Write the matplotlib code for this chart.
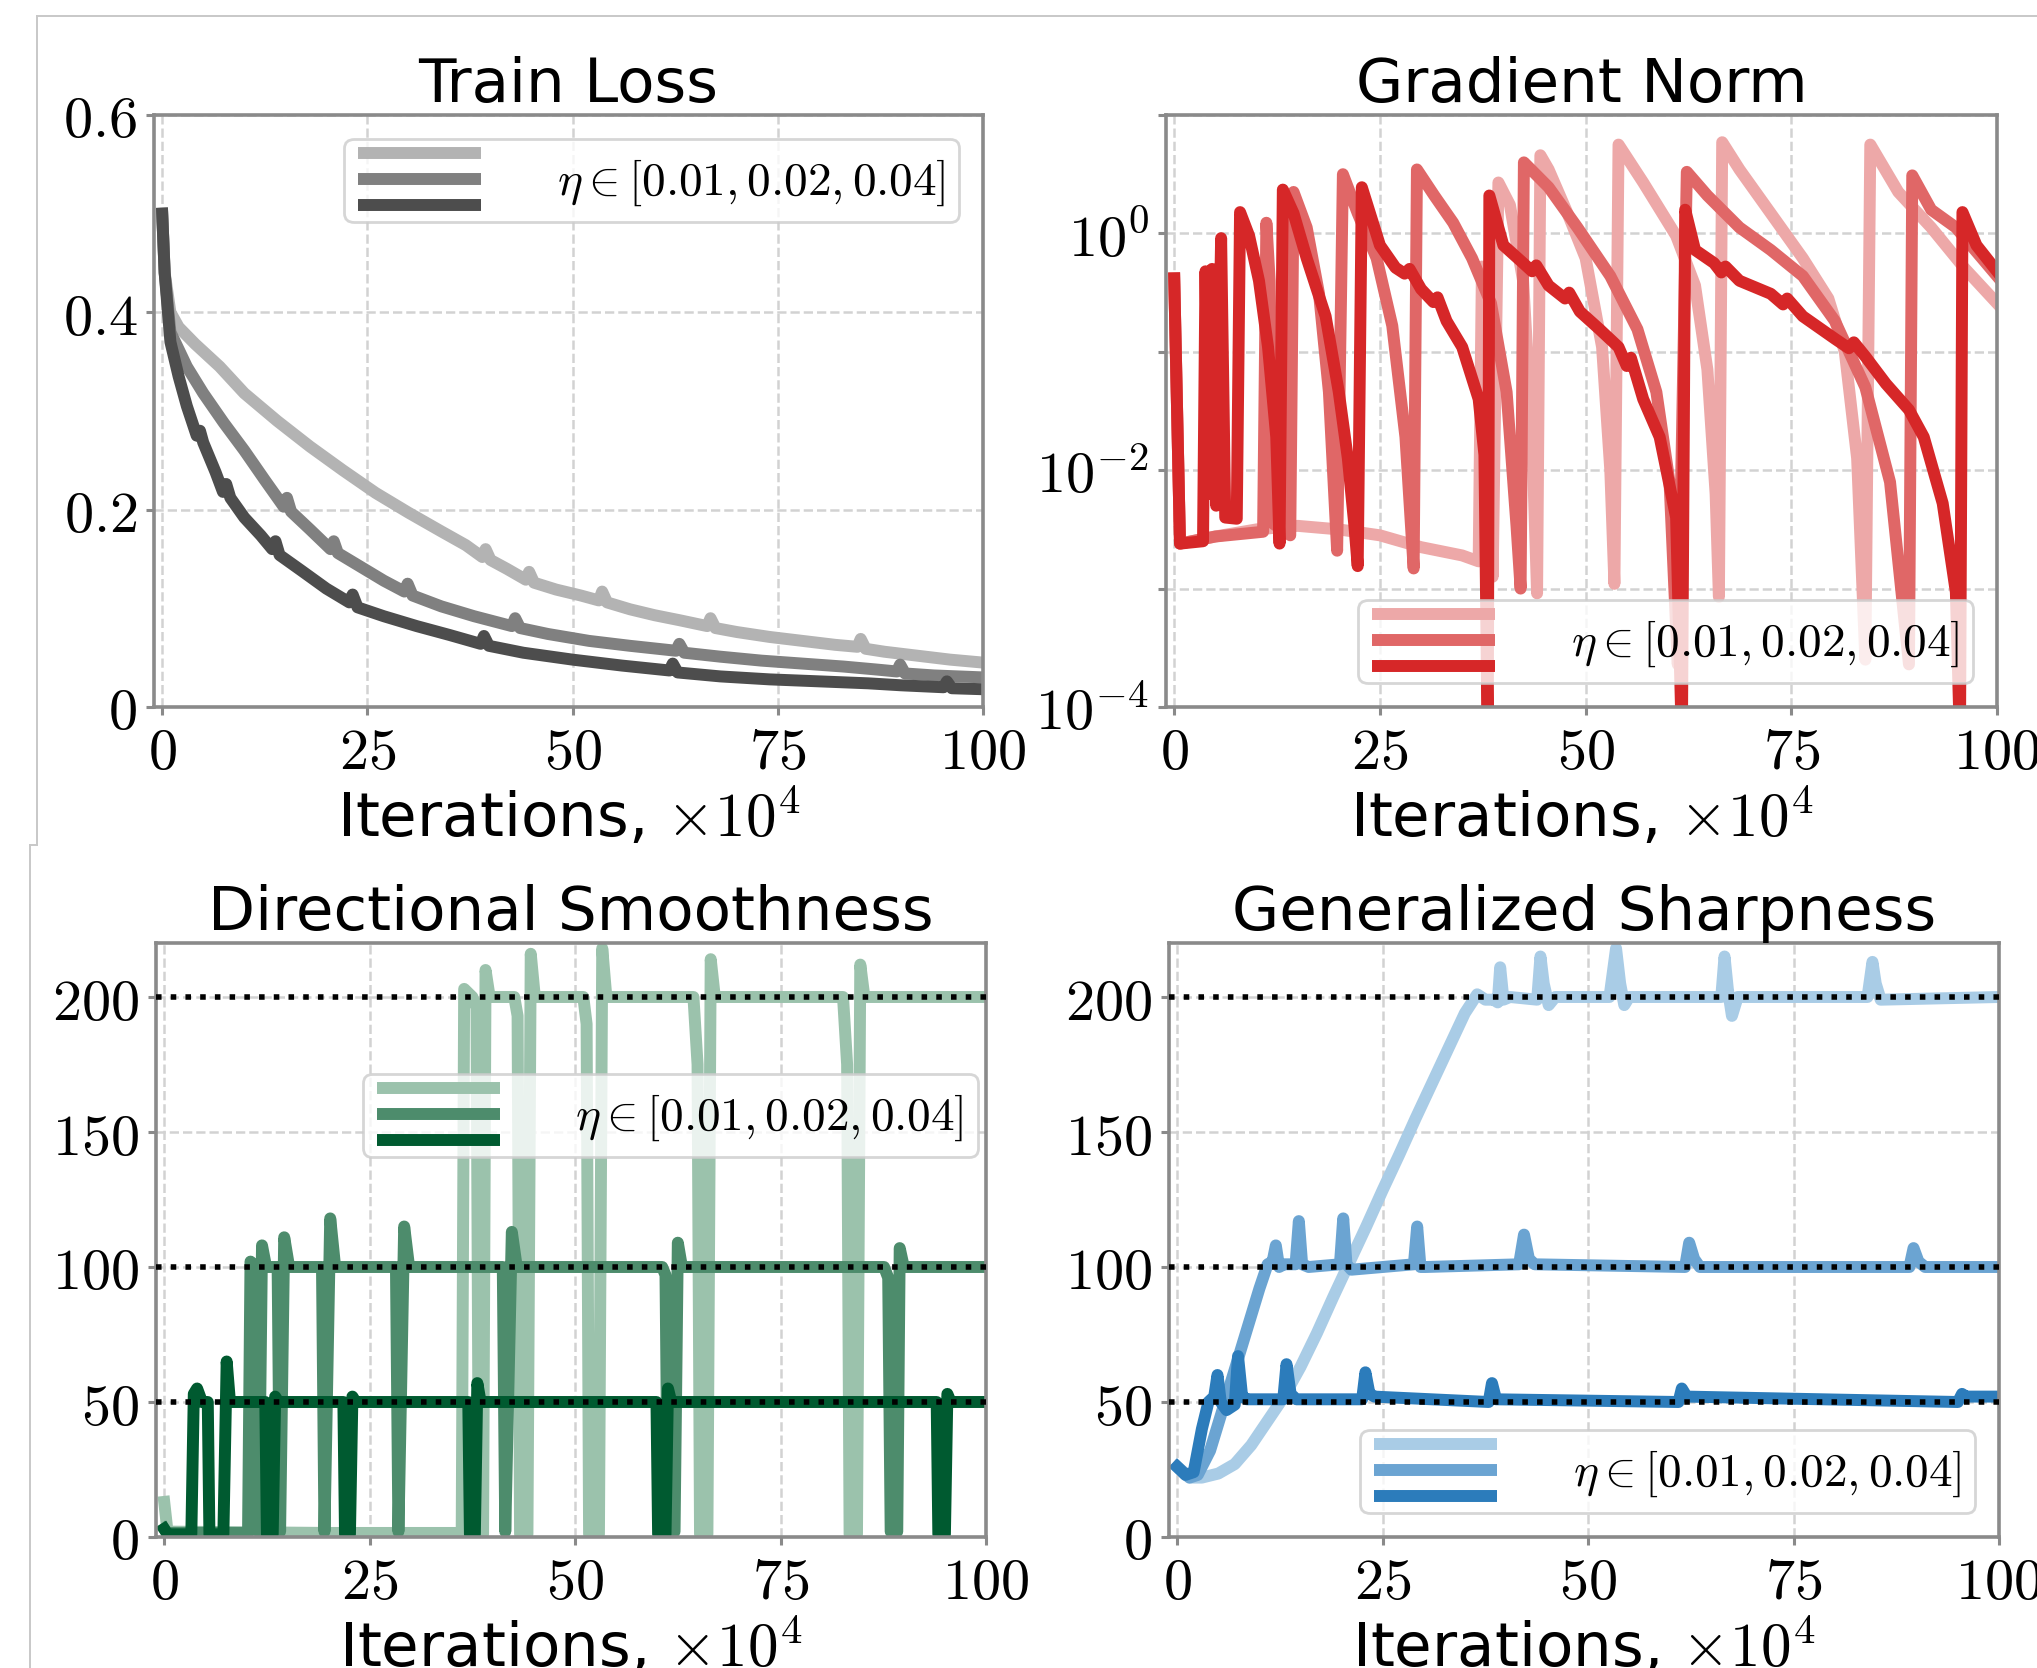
import numpy as np
import matplotlib
matplotlib.use("Agg")
import matplotlib.pyplot as plt
from matplotlib.lines import Line2D
from matplotlib.legend_handler import HandlerBase

plt.rcParams['mathtext.fontset'] = 'cm'
plt.rcParams['font.family'] = ['DejaVu Sans']

# ---------------- data ----------------
iters_ticks = [0, 25, 50, 75, 100]
eta_label = r'$\eta\in[0.01, 0.02, 0.04]$'

# Train loss
tl_x_1 = [0, 0.3, 1, 2, 4, 7, 10, 14, 18, 22, 26, 30, 34, 37, 39.0, 39.4, 40.0, 42, 44.3, 44.7, 45.3, 48, 51,
          53.2, 53.6, 54.2, 57, 60, 63, 66.4, 66.8, 67.4, 70, 74, 78, 82, 84.7, 85.1, 85.7, 88, 92, 96, 100]
tl_y_1 = [0.50, 0.44, 0.40, 0.385, 0.368, 0.345, 0.318, 0.29, 0.264, 0.24, 0.217, 0.197, 0.178, 0.164, 0.152,
          0.160, 0.149, 0.140, 0.129, 0.137, 0.126, 0.119, 0.113, 0.108, 0.117, 0.106, 0.099, 0.093, 0.088,
          0.082, 0.090, 0.080, 0.076, 0.071, 0.067, 0.063, 0.061, 0.069, 0.059, 0.056, 0.052, 0.048, 0.045]
tl_x_2 = [0, 0.3, 1, 3, 5, 7.5, 10, 12.5, 14.8, 15.2, 15.7, 18, 20.5, 20.9, 21.4, 24, 27, 29.5, 29.9, 30.5, 34,
          38, 42.6, 43.0, 43.6, 47, 52, 57, 62.6, 63.0, 63.6, 68, 73, 78, 83, 87, 89.5, 89.9, 90.5, 94, 97, 100]
tl_y_2 = [0.50, 0.44, 0.38, 0.345, 0.318, 0.288, 0.26, 0.23, 0.203, 0.212, 0.198, 0.18, 0.16, 0.168, 0.156,
          0.143, 0.128, 0.117, 0.125, 0.113, 0.102, 0.092, 0.082, 0.090, 0.080, 0.074, 0.067, 0.062, 0.057,
          0.064, 0.055, 0.051, 0.047, 0.044, 0.041, 0.038, 0.036, 0.043, 0.034, 0.032, 0.031, 0.030]
tl_x_4 = [0, 0.3, 1, 2, 3, 4.2, 4.6, 5, 6.5, 7.4, 7.8, 8.3, 10, 12, 13.4, 13.8, 14.3, 17, 20, 22.8, 23.2, 23.8,
          27, 31, 35, 38.8, 39.2, 39.8, 44, 50, 56, 61.8, 62.2, 62.8, 68, 74, 80, 86, 90, 95.2, 95.6, 96.2, 100]
tl_y_4 = [0.50, 0.44, 0.37, 0.335, 0.305, 0.275, 0.28, 0.268, 0.238, 0.218, 0.226, 0.212, 0.192, 0.174, 0.160,
          0.168, 0.154, 0.138, 0.120, 0.106, 0.114, 0.101, 0.092, 0.082, 0.073, 0.064, 0.072, 0.062, 0.055,
          0.048, 0.042, 0.037, 0.044, 0.035, 0.031, 0.028, 0.026, 0.024, 0.022, 0.020, 0.026, 0.019, 0.018]

# Gradient norm (log10 of the value)
gn_x_1 = [0, 0.7, 5, 10, 15, 20, 25, 30, 35, 37.0, 37.4, 38.2, 38.7, 39.4, 40.8, 42.4, 43.5, 44.1, 44.5,
          45.5, 47.8, 50, 52, 53.0, 53.5, 54.0, 57, 61, 63.3, 64.8, 65.8, 66.2, 66.6, 68.7, 72.5, 76.4,
          79.5, 81.5, 83, 84.0, 84.6, 88, 92, 96, 100]
gn_l_1 = [-0.38, -2.62, -2.56, -2.5, -2.47, -2.5, -2.55, -2.65, -2.72, -2.77, -0.28, -0.6, -2.9, 0.43, 0.24,
          -0.4, -1.72, -3.04, 0.66, 0.54, 0.17, -0.21, -0.96, -2.0, -2.96, 0.75, 0.43, -0.02, -0.44, -1.15,
          -2.2, -3.07, 0.77, 0.54, 0.17, -0.21, -0.55, -1.0, -1.9, -3.6, 0.75, 0.35, 0.05, -0.29, -0.59]
gn_x_2 = [0, 0.7, 5, 10.8, 11.2, 11.6, 12.0, 14.1, 14.5, 16.1, 17.6, 18.8, 19.8, 20.5, 22.3, 24.6, 26.5,
          28.1, 29.1, 29.5, 31.6, 33.9, 36.2, 38.5, 40.4, 41.6, 42.1, 42.5, 45.5, 49, 53, 56.3, 58.6, 60.2,
          61.2, 62.3, 64.8, 68.7, 72.5, 76.4, 80.3, 84, 87, 89.3, 89.7, 92, 95, 100]
gn_l_2 = [-0.38, -2.62, -2.56, -2.52, 0.09, -0.4, -2.45, -2.55, 0.35, 0.05, -0.51, -1.34, -2.68, 0.5, 0.17,
          -0.21, -0.78, -1.72, -2.83, 0.54, 0.32, 0.09, -0.21, -0.59, -1.34, -2.47, -3.0, 0.6, 0.39, 0.05,
          -0.36, -0.81, -1.34, -2.1, -3.64, 0.52, 0.32, 0.05, -0.14, -0.36, -0.74, -1.3, -2.1, -3.64, 0.49,
          0.2, 0.05, -0.36]
gn_x_4 = [0, 0.7, 3.5, 3.8, 4.2, 4.6, 5.1, 5.7, 6.2, 7.6, 8.0, 9.1, 10.3, 11.4, 12.4, 12.8, 13.2, 14.5,
          16.1, 18.4, 20, 21.1, 21.9, 22.3, 22.8, 25, 26.9, 28.0, 28.6, 30, 31.5, 32.0, 33.1, 35, 37.0, 37.7,
          38.1, 38.3, 40, 42.4, 43.5, 44.0, 45.5, 47.5, 48.0, 49.3, 51.7, 54, 55.0, 55.5, 57, 59, 61, 61.7,
          62.1, 63.3, 65.6, 66.5, 67.0, 68.7, 72.5, 74.0, 74.5, 76.4, 80.3, 82.0, 82.6, 84, 86.5, 89.3, 91.1,
          93.4, 95, 95.5, 95.8, 97.5, 100]
gn_l_4 = [-0.38, -2.62, -2.6, -0.32, -2.2, -0.3, -2.3, -0.04, -2.4, -2.41, 0.18, -0.02, -0.4, -0.96, -1.72,
          -2.62, 0.37, 0.17, -0.21, -0.7, -1.34, -1.9, -2.47, -2.81, 0.39, -0.1, -0.29, -0.34, -0.30, -0.47,
          -0.58, -0.54, -0.74, -0.96, -1.4, -1.87, -4.3, 0.32, -0.1, -0.25, -0.32, -0.27, -0.44, -0.55,
          -0.50, -0.66, -0.81, -0.96, -1.12, -1.05, -1.4, -1.72, -2.4, -4.3, 0.2, -0.14, -0.25, -0.33,
          -0.28, -0.4, -0.51, -0.6, -0.55, -0.7, -0.89, -0.97, -0.92, -1.04, -1.27, -1.49, -1.72, -2.28,
          -3.03, -4.3, 0.18, -0.1, -0.32]

# Directional smoothness
ds_x_1 = [0, 0.4, 20, 36.2, 36.5, 37.5, 38.0, 38.3, 38.8, 39.1, 39.6, 42.6, 43.0, 43.3, 44.2, 44.6, 45.1,
          51.0, 51.4, 51.7, 52.9, 53.3, 53.8, 64.4, 64.9, 65.2, 66.1, 66.5, 67.0, 82.6, 83.1, 83.4, 84.3,
          84.7, 85.2, 100]
ds_y_1 = [13, 2, 1.5, 1.5, 203, 200, 196, 1, 1, 210, 200, 200, 193, 1, 1, 216, 200, 200, 190, 1, 1, 218,
          200, 200, 175, 1, 1, 214, 200, 200, 175, 1, 1, 212, 200, 200]
ds_x_2 = [0, 0.4, 10.2, 10.5, 11.2, 11.5, 11.9, 12.4, 13.8, 14.1, 14.6, 15.2, 19.2, 19.5, 20.2, 20.8, 28.2,
          28.5, 29.2, 29.8, 41.2, 41.5, 42.3, 42.9, 60.6, 61.0, 61.3, 62.1, 62.5, 63.0, 87.6, 88.1, 88.4,
          89.2, 89.5, 90.0, 100]
ds_y_2 = [3, 1.5, 1.5, 102, 100, 2, 108, 100, 100, 2, 111, 100, 100, 2, 118, 100, 100, 2, 115, 100, 100, 2,
          113, 100, 100, 97, 2, 2, 109, 100, 100, 96, 2, 2, 107, 100, 100]
ds_x_4 = [0, 0.4, 3.3, 3.6, 4.0, 4.6, 5.3, 5.5, 7.2, 7.6, 8.0, 12.3, 12.5, 13.2, 13.5, 13.9, 21.8, 22.0, 22.6,
          22.9, 23.3, 37.0, 37.2, 37.8, 38.1, 38.5, 59.9, 60.1, 61.0, 61.3, 61.7, 94.0, 94.2, 95.0, 95.3,
          95.7, 100]
ds_y_4 = [3, 1, 1, 53, 55, 50, 50, 1, 1, 65, 50, 50, 1, 1, 52, 50, 50, 1, 1, 52, 50, 50, 1, 1, 57, 50, 50, 1,
          1, 55, 50, 50, 1, 1, 53, 50, 50]
ds_targets = [50, 100, 200]

# Generalized sharpness
gs_x_1 = [0, 1.5, 3, 5, 7, 9, 11, 13, 15, 17, 19, 21, 23, 25, 27, 29, 31, 33, 35, 36.5, 37.5, 38.5, 39.0,
          39.3, 39.7, 40.5, 43.8, 44.2, 44.6, 45.2, 46, 52.6, 53.4, 53.9, 54.4, 55, 66.2, 66.6, 67.0, 67.5,
          68.2, 84.0, 84.6, 85.0, 85.6, 100]
gs_y_1 = [26, 22, 22, 23.5, 27, 34, 43, 52, 63, 75.5, 89, 102, 115, 128.5, 141.5, 155, 168, 181, 194, 201,
          199, 199, 198, 211, 199, 200, 199, 215, 205, 197, 200, 200, 218, 205, 197, 200, 200, 215, 203,
          193, 200, 200, 213, 205, 199, 200]
gs_x_2 = [0, 1.5, 2.5, 4, 5.5, 7, 8.5, 10, 11, 11.6, 12.0, 12.4, 13, 14.4, 14.8, 15.2, 16, 19.8, 20.2, 20.6,
          21.2, 28.8, 29.2, 29.6, 30.2, 41.6, 42.2, 42.8, 43.5, 61.8, 62.3, 62.9, 63.6, 89.1, 89.6, 90.2, 91,
          100]
gs_y_2 = [26, 22, 23, 32, 47, 62, 77, 92, 101, 102, 108, 100, 101, 101, 117, 101, 100, 101, 118, 101, 99,
          101, 115, 100, 100, 101, 112, 103, 101, 100, 109, 103, 100, 100, 107, 102, 100, 100]
gs_x_4 = [0, 1, 2, 3, 3.8, 4.5, 4.9, 5.3, 6, 7, 7.4, 7.9, 8.5, 12.9, 13.3, 13.8, 14.5, 22.5, 22.9, 23.4, 24,
          37.9, 38.3, 38.8, 61.0, 61.4, 62.0, 95.0, 95.5, 96.0, 100]
gs_y_4 = [26, 23, 24, 40, 50, 52, 60, 50, 47, 49, 67, 52, 51, 51, 64, 53, 51, 51, 61, 53, 52, 50, 57, 51, 50,
          55, 52, 50, 53, 52, 52]

greys = ['#b3b3b3', '#808080', '#4d4d4d']
reds = ['#eda8a8', '#e06767', '#d62728']
greens = ['#9bc2ac', '#4d8c6c', '#005a30']
blues = ['#a9cce6', '#6ba4d2', '#2c7cbb']

LW = 4.3
SPINE = '#8a8a8a'


class ThreeLines(HandlerBase):
    # one legend entry drawn as three stacked lines
    def __init__(self, colors):
        super().__init__()
        self.colors = colors

    def create_artists(self, legend, orig_handle, xdescent, ydescent, width, height, fontsize, trans):
        arts = []
        for i, c in enumerate(self.colors):
            y = -ydescent + height * (1 - i / 2)
            arts.append(Line2D([-xdescent, -xdescent + width], [y, y], color=c, lw=LW,
                               solid_capstyle='butt', transform=trans))
        return arts


def style_axes(ax, title):
    ax.set_title(title, fontsize=22, pad=4)
    ax.set_xlabel(r'Iterations, $\times10^4$', fontsize=22, labelpad=2)
    ax.set_xlim(-1, 100)
    ax.set_xticks(iters_ticks)
    ax.set_xticklabels([f'${t}$' for t in iters_ticks])
    ax.grid(True, ls='--', color='#d2d2d2', lw=0.9)
    for s in ax.spines.values():
        s.set_color(SPINE)
        s.set_linewidth(1.3)
    ax.tick_params(labelsize=21, length=3, width=1.1, color=SPINE, pad=3)


def add_legend(ax, colors, **kw):
    dummy = Line2D([], [])
    ax.legend([dummy], [eta_label], handler_map={dummy: ThreeLines(colors)}, fontsize=17,
              handlelength=2.6, handleheight=1.32, handletextpad=1.6, borderpad=0.3, **kw)


fig = plt.figure(figsize=(2037 / 200, 1668 / 200), dpi=200)
W, H = 2037.0, 1668.0


def add_ax(x0, x1, y0, y1):
    return fig.add_axes([x0 / W, 1 - y1 / H, (x1 - x0) / W, (y1 - y0) / H])


ax1 = add_ax(154, 983, 115, 707)
ax2 = add_ax(1166, 1997, 115, 707)
ax3 = add_ax(156, 986, 943, 1537)
ax4 = add_ax(1169, 1999, 943, 1537)

# Train loss
for x, y, c in zip([tl_x_1, tl_x_2, tl_x_4], [tl_y_1, tl_y_2, tl_y_4], greys):
    ax1.plot(x, y, color=c, lw=LW)
style_axes(ax1, 'Train Loss')
ax1.set_ylim(0, 0.6)
ax1.set_yticks([0, 0.2, 0.4, 0.6])
ax1.set_yticklabels(['$0$', '$0.2$', '$0.4$', '$0.6$'])
add_legend(ax1, greys, loc='upper right')

# Gradient norm
for x, l, c in zip([gn_x_1, gn_x_2, gn_x_4], [gn_l_1, gn_l_2, gn_l_4], reds):
    ax2.plot(x, 10.0 ** np.array(l), color=c, lw=LW)
ax2.set_yscale('log')
style_axes(ax2, 'Gradient Norm')
ax2.set_ylim(1e-4, 1e1)
ax2.set_yticks([1e-4, 1e-3, 1e-2, 1e-1, 1e0, 1e1])
ax2.set_yticklabels([r'$10^{-4}$', '', r'$10^{-2}$', '', r'$10^{0}$', ''])
ax2.yaxis.set_minor_locator(matplotlib.ticker.NullLocator())
add_legend(ax2, reds, loc='lower right')

# Directional smoothness
for x, y, c in zip([ds_x_1, ds_x_2, ds_x_4], [ds_y_1, ds_y_2, ds_y_4], greens):
    ax3.plot(x, y, color=c, lw=LW)
for t in ds_targets:
    ax3.axhline(t, color='black', ls=':', lw=2.0, zorder=5)
style_axes(ax3, 'Directional Smoothness')
ax3.set_ylim(0, 220)
ax3.set_yticks([0, 50, 100, 150, 200])
ax3.set_yticklabels([f'${t}$' for t in [0, 50, 100, 150, 200]])
add_legend(ax3, greens, loc='center right', bbox_to_anchor=(1.0, 0.71), borderaxespad=0.17)

# Generalized sharpness
for x, y, c in zip([gs_x_1, gs_x_2, gs_x_4], [gs_y_1, gs_y_2, gs_y_4], blues):
    ax4.plot(x, y, color=c, lw=LW)
for t in ds_targets:
    ax4.axhline(t, color='black', ls=':', lw=2.0, zorder=5)
style_axes(ax4, 'Generalized Sharpness')
ax4.set_ylim(0, 220)
ax4.set_yticks([0, 50, 100, 150, 200])
ax4.set_yticklabels([f'${t}$' for t in [0, 50, 100, 150, 200]])
add_legend(ax4, blues, loc='lower right')

# page frame left over from the screenshot, and the cut-off panel tag
frame = dict(transform=fig.transFigure, color='#c8c8c8', lw=0.7)
fig.add_artist(Line2D([37 / W, 1], [1 - 16 / H, 1 - 16 / H], **frame))
fig.add_artist(Line2D([37 / W, 37 / W], [1 - 16 / H, 1 - 845 / H], **frame))
fig.add_artist(Line2D([30 / W, 37 / W], [1 - 845 / H, 1 - 845 / H], **frame))
fig.add_artist(Line2D([30 / W, 30 / W], [1 - 845 / H, 0], **frame))
fig.text(985 / W, 1 + 11 / H, '(a)', ha='center', va='baseline', fontsize=22)

fig.savefig('out.png', dpi=200)
